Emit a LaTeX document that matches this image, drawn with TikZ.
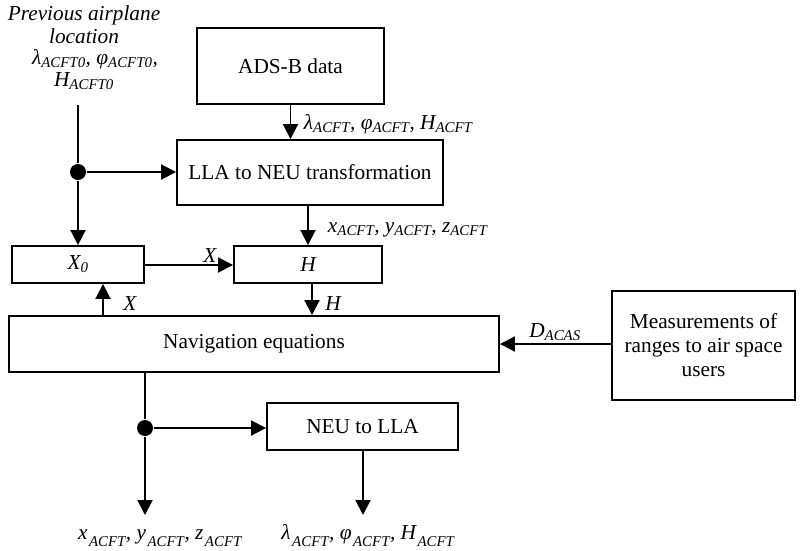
\documentclass[tikz,border=0pt]{standalone}
\usepackage{fontspec}
\setmainfont{Liberation Serif}
\usetikzlibrary{arrows.meta}
\newcommand{\sub}[1]{\textsubscript{#1}}
\newcommand{\bsub}[1]{\raisebox{-4pt}{\textsubscript{\kern1.5pt#1}}}
\begin{document}
\begin{tikzpicture}[x=1pt,y=-1pt,
  line width=1.9pt,
  every node/.style={font=\fontsize{21.3}{24}\selectfont, inner sep=0pt},
  blk/.style={draw, rectangle},
  arr/.style={-{Triangle[length=15pt,width=15pt]}},
  lbl/.style={font=\fontsize{21.3}{24}\selectfont\itshape},
  dotst/.style={circle, fill=black, minimum size=16pt, inner sep=0pt}]
\useasboundingbox (0,0) rectangle (805,550);
% boxes
\node[blk, minimum width=187pt, minimum height=76pt] (ads) at (290.5,66) {ADS-B data};
\node[blk, minimum width=266pt, minimum height=65pt] (lla) at (310,172.5) {LLA to NEU transformation};
\node[blk, minimum width=132pt, minimum height=37pt] (x0) at (78,264.5) {\itshape X\sub{0}};
\node[blk, minimum width=148pt, minimum height=37pt] (h) at (308,264.5) {\itshape H};
\node[blk, minimum width=490pt, minimum height=56pt] (nav) at (254,344) {Navigation equations};
\node[blk, minimum width=183pt, minimum height=109pt, align=center] (meas) at (703.5,345.5) {Measurements of\\ranges to air space\\users};
\node[blk, minimum width=191pt, minimum height=47pt] (neu) at (362.5,426.5) {NEU to LLA};
% top-left text
\node[lbl, anchor=base] (prev1) at (84,20) {Previous airplane};
\node[lbl, anchor=base] (prev2) at (84,43) {location};
\node[lbl, anchor=base] (prevl) at (95,64) {λ\sub{ACFT0}, φ\sub{ACFT0},};
\node[lbl, anchor=base] (prevh) at (84,86) {H\sub{ACFT0}};
\coordinate (vtop) at (78,105);
\node[dotst] (d1) at (78,172) {};
% connectors
\draw (vtop) -- (d1);
\draw[arr] (d1) -- (d1 -| lla.west);
\draw[arr] (d1) -- (d1 |- x0.north);
\draw[arr] (ads.south) -- (ads.south |- lla.north);
\node[lbl, anchor=base west] at (303,129) {λ\sub{ACFT}, φ\sub{ACFT}, H\sub{ACFT}};
\draw[arr] (308,205) coordinate (l1) -- (l1 |- h.north);
\node[lbl, anchor=base west] at (327,232) {x\sub{ACFT}, y\sub{ACFT}, z\sub{ACFT}};
\draw[arr] (x0.east |- 0,265) -- (h.west |- 0,265);
\node[lbl, anchor=base] at (210,262) {X};
\draw[arr] (312,283) coordinate (h1) -- (h1 |- nav.north);
\node[lbl, anchor=base] at (333,310) {H};
\draw[arr] (103,316) coordinate (n1) -- (n1 |- x0.south);
\node[lbl, anchor=base] at (130,310) {X};
\draw[arr] (meas.west |- 0,344) coordinate (m1) -- (nav.east |- m1);
\node[lbl, anchor=base] at (555,337) {D\sub{ACAS}};
\node[dotst] (d2) at (145,428) {};
\draw (145,372) coordinate (n2) -- (d2);
\draw[arr] (d2) -- (d2 -| neu.west);
\coordinate (b1) at (145,515);
\draw[arr] (d2) -- (b1);
\coordinate (b2) at (363,515);
\draw[arr] (363,450) coordinate (ne1) -- (b2);
\node[lbl, anchor=base] at (160,539) {x\bsub{ACFT}, y\bsub{ACFT}, z\bsub{ACFT}};
\node[lbl, anchor=base] at (368,539) {λ\bsub{ACFT}, φ\bsub{ACFT}, H\bsub{ACFT}};
\end{tikzpicture}
\end{document}
